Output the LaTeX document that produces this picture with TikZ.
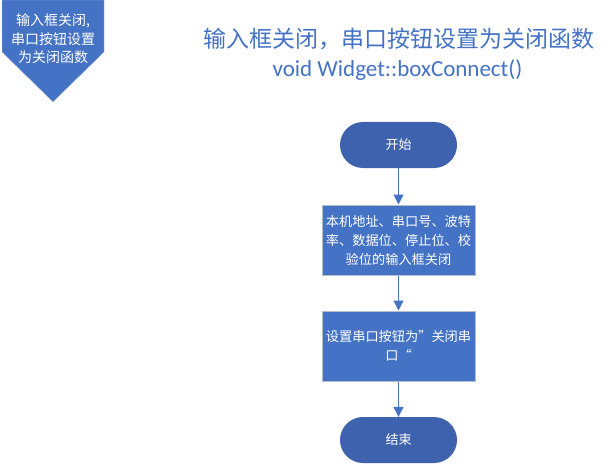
\documentclass[tikz,border=0pt]{standalone}
\usepackage{fontspec}
\setmainfont{Carlito}
\newfontfamily\cjk{Noto Sans CJK SC}
\usetikzlibrary{arrows.meta}
\definecolor{boxblue}{RGB}{68,114,196}
\definecolor{termblue}{RGB}{62,98,174}
\definecolor{edgegray}{RGB}{180,190,205}
\tikzset{proc/.style={draw=edgegray,line width=1pt,fill=boxblue,text=white,minimum width=153pt,minimum height=70pt,align=center,font=\cjk\fontsize{13.2}{19}\selectfont}}
\tikzset{term/.style={fill=termblue,text=white,minimum width=117pt,minimum height=46pt,rounded corners=23pt,font=\cjk\fontsize{13}{13}\selectfont}}
\tikzset{flow/.style={draw=boxblue,line width=1.2pt,->}}
\begin{document}
\begin{tikzpicture}[x=1pt,y=-1pt,>={Triangle[length=10pt,width=10pt]}]
  \useasboundingbox (0,0) rectangle (609,465);
  % off-page marker
  \filldraw[draw=edgegray,fill=boxblue](2,0)--(104,0)--(104,52)--(53,102)--(2,52)--cycle;
  \node[text=white,align=center,font=\cjk\fontsize{14}{18.5}\selectfont] (mark) at (53,39) {输入框关闭,\\串口按钮设置\\为关闭函数};
  % title
  \node[text=boxblue,font=\cjk\fontsize{23}{23}\selectfont] (title) at (399,39) {输入框关闭，串口按钮设置为关闭函数};
  \node[text=boxblue,font=\fontsize{23}{23}\selectfont] (func) at (397.5,70) {void Widget::boxConnect()};
  % flow
  \node[term] (start) at (398.5,145) {开始};
  \node[proc] (close) at (398.5,240) {本机地址、串口号、波特\\率、数据位、停止位、校\\验位的输入框关闭};
  \node[proc] (set) at (398.5,346) {设置串口按钮为”关闭串\\口“};
  \node[term] (end) at (398.5,440) {结束};
  \draw[flow] (start) -- (close);
  \draw[flow] (close) -- (set);
  \draw[flow] (set) -- (end);
\end{tikzpicture}
\end{document}
